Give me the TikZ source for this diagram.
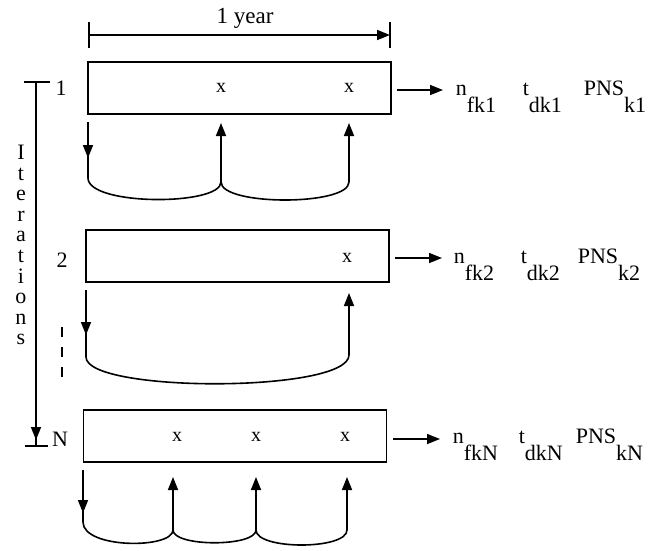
\documentclass[tikz,border=0pt]{standalone}
\usepackage{fontspec}
\setmainfont{Liberation Serif}
\usetikzlibrary{arrows.meta}
\newcommand\lowsub[1]{\raisebox{-17pt}{#1}}
\begin{document}
\begin{tikzpicture}[x=1pt,y=-1pt,
  line width=1.6pt,
  tip/.style={-{Triangle[length=13pt,width=10pt]}},
  iterbox/.style={draw, line width=1.8pt, minimum width=303pt, minimum height=52pt, inner sep=0pt},
  txt/.style={font=\fontsize{22}{26}\selectfont, inner sep=0pt},
  mark x/.style={font=\fontsize{20}{24}\selectfont, inner sep=0pt},
  outlabel/.style={txt, anchor=base west},
]
\useasboundingbox (0,0) rectangle (671,550);

% ---- one-year span ----
\node[txt, font=\fontsize{23}{26}\selectfont, anchor=base] (year) at (245,23) {1 year};
\coordinate (yl) at (89,35);
\coordinate (yr) at (390,35);
\draw ([yshift=-13pt]yl) -- ([yshift=13pt]yl);
\draw ([yshift=-13pt]yr) -- ([yshift=13pt]yr);
\draw[tip] (yl) -- (yr);

% ---- iteration axis ----
\coordinate (atop) at (36,82);
\coordinate (abot) at (36,446);
\draw (24,82) -- (50,82);
\draw[tip] (atop) -- (36,440);
\draw (36,438) -- (abot);
\draw (25,446) -- (48,446);
\node[txt, align=center, font=\fontsize{22}{20.6}\selectfont] (iter) at (21,245)
  {I\\t\\e\\r\\a\\t\\i\\o\\n\\s};
\draw[dash pattern=on 10pt off 10pt] (62,327) -- (62,381);

% ---- iteration 1 ----
\node[iterbox] (b1) at (239.5,88) {};
\node[txt] (l1) at (61,88) {1};
\node[mark x] (x11) at (221,88) {x};
\node[mark x] (x12) at (349,88) {x};
\coordinate (o1) at (397,90);
\coordinate (e1) at (443,90);
\draw[tip] (o1) -- (e1);
\node[outlabel] (n1) at (455,95) {n\lowsub{fk1}};
\node[outlabel] (t1) at (522,95) {t\lowsub{dk1}};
\node[outlabel] (p1) at (583,95) {PNS\lowsub{k1}};
\coordinate (d1a) at (88,122);
\coordinate (d1b) at (88,178);
\coordinate (u11) at (221,182);
\coordinate (u12) at (349,182);
\draw[tip] (d1a) -- (88,158);
\draw (88,155) -- (d1b) .. controls (88,206) and (221,206) .. (u11)
      .. controls (221,206) and (349,206) .. (u12);
\draw[tip] (u11) -- (221,123);
\draw[tip] (u12) -- (349,123);

% ---- iteration 2 ----
\node[iterbox] (b2) at (237.5,256) {};
\node[txt] (l2) at (62,260) {2};
\node[mark x] (x21) at (347,258) {x};
\coordinate (o2) at (395,258);
\coordinate (e2) at (442,258);
\draw[tip] (o2) -- (e2);
\node[outlabel] (n2) at (453,263) {n\lowsub{fk2}};
\node[outlabel] (t2) at (520,263) {t\lowsub{dk2}};
\node[outlabel] (p2) at (577,263) {PNS\lowsub{k2}};
\coordinate (d2a) at (86,290);
\coordinate (d2b) at (86,357);
\coordinate (u21) at (349,355);
\draw[tip] (d2a) -- (86,335);
\draw (86,332) -- (d2b) .. controls (86,393) and (349,393) .. (u21);
\draw[tip] (u21) -- (349,293);

% ---- iteration N ----
\node[iterbox] (bN) at (235,436) {};
\node[txt] (lN) at (60,439) {N};
\node[mark x] (xN1) at (177,437) {x};
\node[mark x] (xN2) at (256,437) {x};
\node[mark x] (xN3) at (345,437) {x};
\coordinate (oN) at (393,439);
\coordinate (eN) at (440,439);
\draw[tip] (oN) -- (eN);
\node[outlabel] (nN) at (452,443) {n\lowsub{fkN}};
\node[outlabel] (tN) at (518,443) {t\lowsub{dkN}};
\node[outlabel] (pN) at (575,443) {PNS\lowsub{kN}};
\coordinate (dNa) at (83,470);
\coordinate (dNb) at (83,522);
\coordinate (uN1) at (173,530);
\coordinate (uN2) at (256,530);
\coordinate (uN3) at (347,530);
\draw[tip] (dNa) -- (83,513);
\draw (83,510) -- (dNb) .. controls (83,549) and (173,549) .. (uN1)
      .. controls (173,547) and (256,547) .. (uN2)
      .. controls (256,550) and (347,550) .. (uN3);
\draw[tip] (uN1) -- (173,477);
\draw[tip] (uN2) -- (256,477);
\draw[tip] (uN3) -- (347,477);
\end{tikzpicture}
\end{document}
